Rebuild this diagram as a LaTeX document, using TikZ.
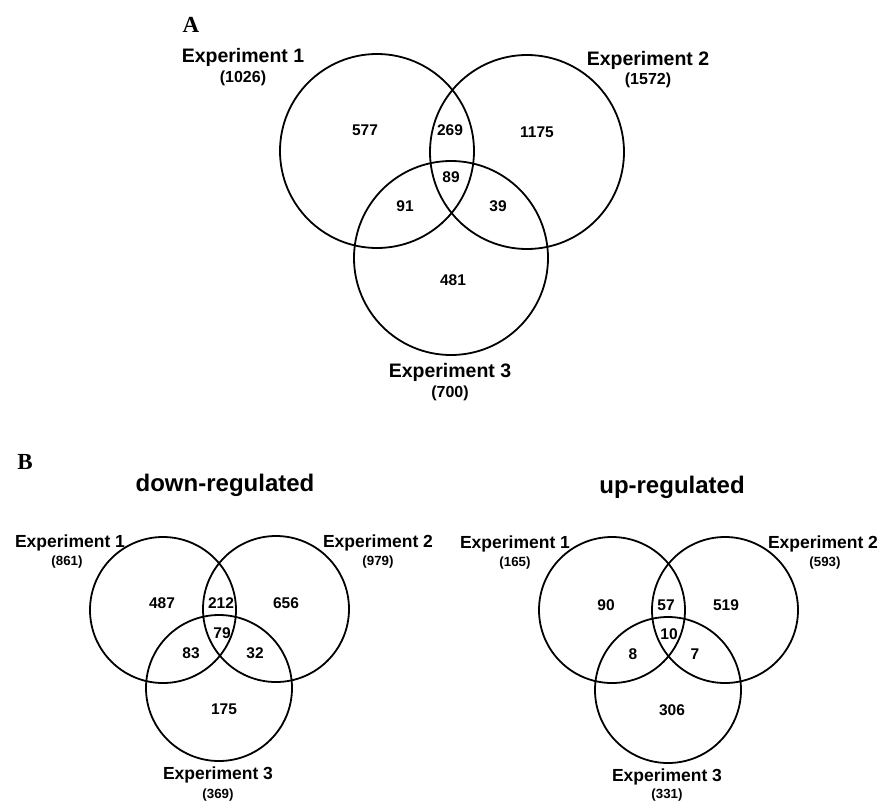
\documentclass[tikz,border=0pt]{standalone}
\usepackage{fontspec}
\setmainfont{Liberation Sans}
\newfontfamily\lettre{Liberation Serif}

\tikzset{
  venn/.style={draw, circle, line width=1.8pt, inner sep=0pt},
  grand/.style={venn, minimum size=194pt},
  petit/.style={venn, minimum size=146pt},
  num/.style={font=\fontsize{15.5}{18}\selectfont\bfseries},
  expA/.style={font=\fontsize{19.5}{22}\selectfont\bfseries},
  totA/.style={font=\fontsize{16}{18}\selectfont\bfseries},
  expB/.style={font=\fontsize{17.5}{20}\selectfont\bfseries},
  totB/.style={font=\fontsize{13.3}{15}\selectfont\bfseries},
  titre/.style={font=\fontsize{24}{28}\selectfont\bfseries},
  panneau/.style={font=\fontsize{23}{26}\selectfont\lettre\bfseries}
}

\begin{document}
\begin{tikzpicture}[x=1pt, y=-1pt]

\useasboundingbox (0,0) rectangle (880,801);

% panneau A
\node[panneau] (lA) at (191,25) {A};
\node[grand] (a1) at (377,151) {};
\node[grand] (a2) at (527,152) {};
\node[grand] (a3) at (451,258) {};

\node[expA] (ea1) at (243,57) {Experiment 1};
\node[totA] (ta1) at (243,78) {(1026)};
\node[expA] (ea2) at (648,60) {Experiment 2};
\node[totA] (ta2) at (648,80) {(1572)};
\node[expA] (ea3) at (450,372) {Experiment 3};
\node[totA] (ta3) at (450,393) {(700)};

\foreach \n/\x/\y/\t in {1/365/130/577, 2/450/130/269, 3/537/132/1175, 4/451/177/89,
                         5/405/206/91, 6/498/206/39, 7/453/280/481}
    \node[num] (na\n) at (\x,\y) {\t};

% panneau B
\node[panneau] (lB) at (25,462) {B};

% down
\node[titre] (td) at (225,485) {down-regulated};
\node[petit] (d1) at (163,610) {};
\node[petit] (d2) at (276,609) {};
\node[petit] (d3) at (219,688) {};

\node[expB] (ed1) at (70,543) {Experiment 1};
\node[totB] (tdd1) at (67,562) {(861)};
\node[expB] (ed2) at (378,543) {Experiment 2};
\node[totB] (tdd2) at (378,562) {(979)};
\node[expB] (ed3) at (218,775) {Experiment 3};
\node[totB] (tdd3) at (218,795) {(369)};

\foreach \n/\x/\y/\t in {1/162/603/487, 2/221/603/212, 3/286/603/656, 4/222/633/79,
                         5/191/653/83, 6/255/653/32, 7/224/709/175}
    \node[num] (nd\n) at (\x,\y) {\t};

% up
\node[titre] (tu) at (672,487) {up-regulated};
\node[petit] (u1) at (612,610) {};
\node[petit] (u2) at (725,610) {};
\node[petit] (u3) at (668,690) {};

\node[expB] (eu1) at (515,544) {Experiment 1};
\node[totB] (tuu1) at (515,563) {(165)};
\node[expB] (eu2) at (823,544) {Experiment 2};
\node[totB] (tuu2) at (825,563) {(593)};
\node[expB] (eu3) at (667,777) {Experiment 3};
\node[totB] (tuu3) at (667,795) {(331)};

\foreach \n/\x/\y/\t in {1/606/605/90, 2/666/605/57, 3/726/605/519, 4/669/634/10,
                         5/633/654/8, 6/695/654/7, 7/672/710/306}
    \node[num] (nu\n) at (\x,\y) {\t};

\end{tikzpicture}
\end{document}
